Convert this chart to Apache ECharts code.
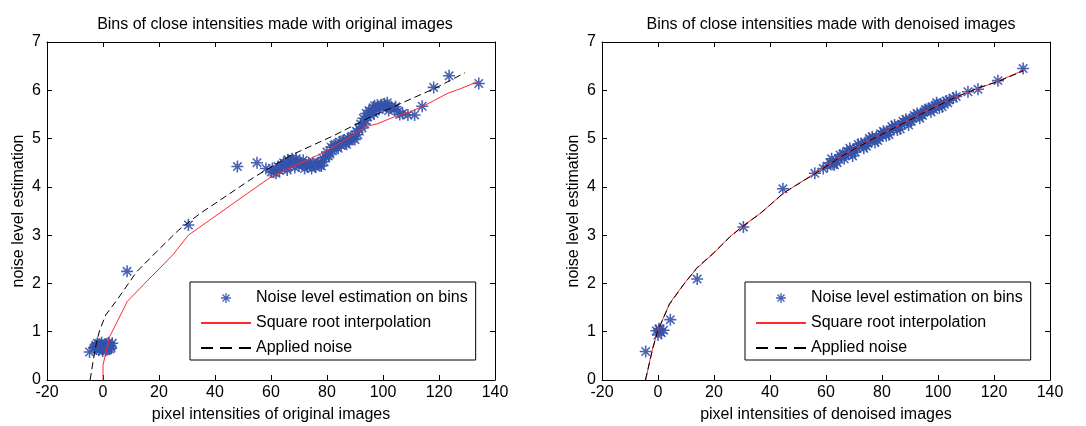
<!DOCTYPE html>
<html>
<head>
<meta charset="utf-8">
<script src="https://cdn.jsdelivr.net/npm/echarts@6/dist/echarts.min.js"></script>
<style>
  html, body { margin: 0; padding: 0; background: #fff; }
  #main { width: 1086px; height: 426px; }
</style>
</head>
<body>
<div id="main"></div>
<script>
// titles and labels
var titles = ['Bins of close intensities made with original images', 'Bins of close intensities made with denoised images'];
var xNames = ['pixel intensities of original images', 'pixel intensities of denoised images'];
var yName = 'noise level estimation';
var seriesNames = ['Noise level estimation on bins', 'Square root interpolation', 'Applied noise'];

// left plot: estimations on original images
var origStars = [
  [-4.8,0.58],[-3.2,0.66],[-2.6,0.72],[-2.2,0.64],[-1.8,0.7],[-1.2,0.74],[-0.8,0.66],[-0.3,0.71],
  [0.2,0.64],[0.6,0.73],[1.0,0.68],[1.4,0.75],[1.8,0.66],[2.2,0.72],[2.7,0.7],[3.3,0.76],
  [-1.5,0.62],[0.9,0.61],[2.4,0.64],[-2.8,0.68],[-2.0,0.76],[-0.5,0.77],[0.4,0.69],[1.2,0.71],
  [2.0,0.77],[2.9,0.66],[-1.0,0.69],[-2.4,0.7],[1.6,0.63],[-0.1,0.6],
  [8.6,2.25],[30.5,3.21],[48,4.42],[55,4.5],[58.2,4.38],
  [60.1,4.31],[62,4.36],[64,4.44],[65,4.48],[66.5,4.52],[68,4.55],[69.5,4.52],[71,4.48],[72.5,4.45],
  [74,4.44],[75.5,4.45],[77,4.5],[78.5,4.6],[80,4.72],[81.5,4.82],[83,4.88],[84.5,4.93],[86,4.97],
  [87.5,5.0],[89,5.05],[90.5,5.15],[92,5.3],[93,5.42],[94,5.52],[95,5.58],[96.5,5.64],[98,5.69],
  [99.5,5.7],[101,5.68],[102.5,5.64],[104,5.6],[105.5,5.56],[107,5.52],
  [61,4.3],[63,4.34],[65.5,4.4],[67,4.45],[70,4.43],[73,4.42],[76,4.41],[77.5,4.44],[79,4.52],
  [80.5,4.64],[82,4.75],[83.5,4.82],[85,4.86],[86.5,4.9],[88,4.95],[89.5,5.0],[91,5.08],[92.5,5.22],
  [94.5,5.45],[96,5.55],[97.5,5.62],[99,5.66],[100.5,5.72],[103,5.66],[62.5,4.42],[66,4.56],[69,4.58],[71.5,4.55],
  [60.5,4.38],[61.8,4.28],[63.5,4.4],[64.5,4.5],[65.8,4.35],[67.5,4.58],[68.5,4.4],[70.5,4.5],[72,4.38],
  [73.5,4.5],[74.5,4.38],[75,4.5],[76.5,4.47],[78,4.43],[79.5,4.62],[81,4.68],[82.5,4.86],[84,4.8],
  [85.5,4.95],[87,4.88],[88.5,5.02],[90,4.98],[91.5,5.2],[93.5,5.3],[95.5,5.48],[97,5.68],[98.5,5.6],
  [100,5.65],[101.5,5.74],[102,5.58],[104.5,5.66],[106,5.5],[96.8,5.52],[93.8,5.38],
  [108.9,5.49],[111.3,5.49],[114,5.67],[118.1,6.06],[123.6,6.3],[134.2,6.14]
];
var origFit = [
  [0,0],[0,0.31],[2.4,0.9],[8.7,1.63],[14.4,1.97],[20,2.3],[24.9,2.59],[30.5,3.0],[41.5,3.45],[50,3.8],
  [60.1,4.21],[70,4.48],[78,4.69],[85,4.92],[91.1,5.14],[94,5.25],[98.2,5.31],[104,5.45],[110.1,5.56],
  [116,5.72],[123.2,5.94],[128,6.04],[133.9,6.18]
];
var origApplied = [
  [-4.6,0],[-3.5,0.4],[-2.4,0.75],[-1.2,1.03],[1,1.35],[5.4,1.69],[12,2.24],[19.2,2.66],[26.9,3.1],
  [34.7,3.45],[45,3.85],[54.2,4.21],[67.3,4.66],[82.7,5.07],[94.6,5.42],[106.5,5.73],[118.5,6.04],[129.2,6.36]
];

// right plot: estimations on denoised images
var denStars = [
  [-4.4,0.59],[-0.6,1.02],[0.6,1.04],[0,0.93],[0.3,1.06],[1.2,0.98],[2,1.03],[4.4,1.25],[14,2.09],
  [30.5,3.17],[44.6,3.96],[56,4.28],
  [59,4.38],[60.5,4.43],[61.5,4.5],[62.5,4.47],[63.5,4.55],[64.5,4.58],[65.5,4.62],[66,4.68],[67,4.66],
  [68,4.72],[69,4.7],[70,4.78],[71,4.8],[72,4.83],[73,4.86],[74,4.92],[75,4.9],[76,4.97],[77,4.99],
  [78,5.03],[79,5.02],[80,5.08],[81,5.12],[82,5.14],[83,5.18],[84,5.2],[85,5.24],[86,5.26],[87,5.3],
  [88,5.33],[89,5.34],[90,5.4],[91,5.42],[92,5.45],[93,5.48],[94,5.52],[95,5.55],[96,5.58],[97,5.6],
  [98,5.66],[99,5.68],[100,5.7],[101,5.72],[102,5.74],[103,5.78],[104,5.8],[105.5,5.84],
  [62,4.58],[64,4.5],[66.5,4.58],[68.5,4.8],[70.5,4.72],[72.5,4.9],[74.5,4.84],[76.5,5.04],[78.5,4.96],
  [80.5,5.15],[82.5,5.08],[84.5,5.28],[86.5,5.2],[88.5,5.4],[90.5,5.36],[92.5,5.52],[94.5,5.48],
  [96.5,5.62],[98.5,5.6],
  [63,4.46],[65,4.66],[67.5,4.74],[69.5,4.64],[71.5,4.88],[73.5,4.8],[75.5,5.0],[77.5,4.92],[79.5,5.1],
  [81.5,5.06],[83.5,5.25],[85.5,5.18],[87.5,5.36],[89.5,5.28],[91.5,5.48],[93.5,5.42],[95.5,5.6],
  [97.5,5.55],[99.5,5.74],[101.5,5.66],[103.5,5.74],[100.5,5.64],
  [106.5,5.87],[110.7,5.97],[114.3,6.02],[121.4,6.2],[130.4,6.45]
];
var denFit = [
  [-4.4,0],[-1.8,0.69],[0,1.03],[4.2,1.59],[9,1.97],[13.8,2.31],[19.8,2.62],[25.7,2.97],[30.5,3.2],
  [36.5,3.45],[44.6,3.86],[56,4.28],[66,4.66],[76,4.98],[86,5.28],[96,5.58],[106,5.86],[115,6.05],
  [121.4,6.19],[130.4,6.41]
];
var denApplied = [
  [-4.5,0],[-2,0.62],[-0.2,1.0],[4,1.56],[9.2,1.98],[14,2.33],[20,2.64],[26,2.98],[30.5,3.19],[37,3.47],
  [45,3.88],[56,4.27],[66,4.65],[76,4.97],[86,5.27],[96,5.57],[106,5.85],[115,6.06],[121.4,6.18],[130.4,6.4]
];

// MATLAB-like '*' marker
var star = 'path://M-1.3,-10L1.3,-10L1.3,10L-1.3,10Z M-10,-1.3L10,-1.3L10,1.3L-10,1.3Z ' +
  'M-6.1,-7.9L7.9,6.1L6.1,7.9L-7.9,-6.1Z M6.1,-7.9L7.9,-6.1L-6.1,7.9L-7.9,6.1Z';
var blue = '#3552aa';
var red = '#ff2a2a';
var font = 'Liberation Sans';

// fixed plot boxes, no auto shrinking for labels
var grids = [
  {left: 47, top: 42, width: 448, height: 338, outerBoundsMode: 'none'},
  {left: 602, top: 42, width: 448, height: 338, outerBoundsMode: 'none'}
];

function xAxisFor(g, bottom) {
  return {
    type: 'value', gridIndex: g, min: -20, max: 140, interval: 20,
    position: bottom ? 'bottom' : 'top',
    name: bottom ? xNames[g] : '', nameLocation: 'middle', nameGap: 27,
    nameTextStyle: {fontFamily: font, fontSize: 16, color: '#000'},
    axisLine: {show: true, onZero: false, lineStyle: {color: '#000', width: 1}},
    axisTick: {show: true, inside: true, length: 5, lineStyle: {color: '#000'}},
    axisLabel: {show: bottom, margin: 5, fontFamily: font, fontSize: 16, color: '#000'},
    splitLine: {show: false}
  };
}
function yAxisFor(g, left) {
  return {
    type: 'value', gridIndex: g, min: 0, max: 7, interval: 1,
    position: left ? 'left' : 'right',
    name: left ? yName : '', nameLocation: 'middle', nameGap: 20,
    nameTextStyle: {fontFamily: font, fontSize: 16, color: '#000'},
    axisLine: {show: true, onZero: false, lineStyle: {color: '#000', width: 1}},
    axisTick: {show: true, inside: true, length: 5, lineStyle: {color: '#000'}},
    axisLabel: {show: left, margin: 6, fontFamily: font, fontSize: 16, color: '#000'},
    splitLine: {show: false}
  };
}

function seriesFor(g, stars, fit, applied) {
  var ax = g * 2;
  return [
    {
      name: seriesNames[0], type: 'scatter', xAxisIndex: ax, yAxisIndex: ax,
      symbol: star, symbolSize: 12, symbolKeepAspect: true,
      itemStyle: {color: blue, opacity: 0.9}, data: stars, z: 2
    },
    {
      name: seriesNames[1], type: 'line', xAxisIndex: ax, yAxisIndex: ax,
      showSymbol: false, symbol: 'none', lineStyle: {color: red, width: 1},
      itemStyle: {color: red}, data: fit, z: 3
    },
    {
      name: seriesNames[2], type: 'line', xAxisIndex: ax, yAxisIndex: ax,
      showSymbol: false, symbol: 'none', lineStyle: {color: '#000', width: 1, type: [7, 4]},
      itemStyle: {color: '#000'}, data: applied, z: 4
    }
  ];
}

function legendFor(g) {
  var lft = g === 0 ? 190 : 745;
  return {
    orient: 'vertical', left: lft, top: 282,
    padding: [8, 8, 4, 10], itemGap: 9, itemWidth: 50, itemHeight: 10,
    backgroundColor: '#fff', borderColor: '#000', borderWidth: 1, borderRadius: 0,
    textStyle: {fontFamily: font, fontSize: 16, color: '#000'},
    selectedMode: false,
    data: [
      {name: seriesNames[0], icon: star, itemStyle: {color: blue}},
      // hide the marker that line legends draw, keep the line
      {name: seriesNames[1], itemStyle: {opacity: 0}},
      {name: seriesNames[2], itemStyle: {opacity: 0}, lineStyle: {type: [12, 7]}}
    ]
  };
}

var chart = echarts.init(document.getElementById('main'), null, {renderer: 'canvas'});
chart.setOption({
  animation: false,
  backgroundColor: '#fff',
  title: [
    {text: titles[0], left: 270, top: 12, textAlign: 'center',
      textStyle: {fontFamily: font, fontSize: 16, fontWeight: 'normal', color: '#000'}},
    {text: titles[1], left: 826, top: 12, textAlign: 'center',
      textStyle: {fontFamily: font, fontSize: 16, fontWeight: 'normal', color: '#000'}}
  ],
  legend: [legendFor(0), legendFor(1)],
  grid: grids,
  xAxis: [xAxisFor(0, true), xAxisFor(0, false), xAxisFor(1, true), xAxisFor(1, false)],
  yAxis: [yAxisFor(0, true), yAxisFor(0, false), yAxisFor(1, true), yAxisFor(1, false)],
  series: seriesFor(0, origStars, origFit, origApplied).concat(seriesFor(1, denStars, denFit, denApplied))
});
</script>
</body>
</html>
